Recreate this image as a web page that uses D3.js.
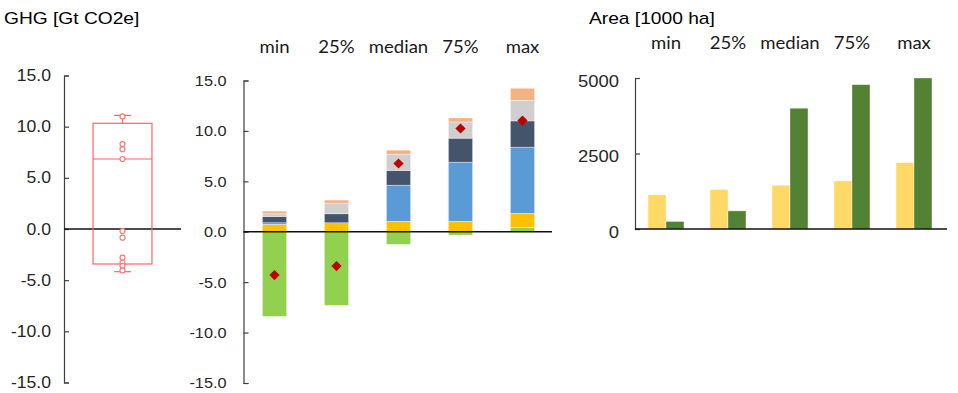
<!DOCTYPE html>
<html>
<head>
<meta charset="utf-8">
<script src="https://cdn.jsdelivr.net/npm/d3@7"></script>
<style>
  body { margin: 0; background: #fff; }
  svg { display: block; }
</style>
</head>
<body>
<div id="chart"></div>
<script>
// ---- data ----
var categories = ["min", "25%", "median", "75%", "max"];

// stacked GHG contributions per scenario [Gt CO2e]
var ghgKeys   = ["green", "gold", "blue", "slate", "grey", "peach"];
var ghgColors = ["#92D050", "#FFC000", "#5B9BD5", "#44546A", "#D0CECE", "#F4B183"];
var greenVals = [-8.4, -7.3, -1.25, -0.33, 0.43];
var goldVals  = [0.73, 0.89, 1.03, 1.03, 1.39];
var blueVals  = [0.16, 0.0, 3.59, 5.87, 6.57];
var slateVals = [0.63, 0.89, 1.46, 2.38, 2.6];
var greyVals  = [0.26, 1.06, 1.61, 1.61, 2.05];
var peachVals = [0.27, 0.30, 0.40, 0.40, 1.19];
var netVals   = [-4.3, -3.4, 6.77, 10.24, 11.03];

// box plot on the left
var boxQuartiles = [-3.42, 6.84, 10.33];
var boxWhiskers  = [-4.17, 11.1];
var boxPoints    = [11.0, 8.3, 7.8, 6.84, -0.2, -0.85, -2.8, -3.3, -3.6, -4.05];

// area panel [1000 ha]
var areaKeys   = ["a", "b"];
var areaColors = ["#FFD966", "#548235"];
var areaYellow = [1130, 1310, 1450, 1590, 2200];
var areaGreen  = [250, 600, 4000, 4780, 5000];

var ghgTicks  = [-15, -10, -5, 0, 5, 10, 15];
var areaTicks = [0, 2500, 5000];

var width = 958, height = 393;

var svg = d3.select("#chart").append("svg")
  .attr("width", width)
  .attr("height", height);

var tickFont = "'Liberation Sans', Arial, sans-serif";
var catFont  = "Lato, 'Open Sans', sans-serif";

function styleAxis(g, fontSize, sx, pad) {
  g.select(".domain").attr("stroke", "#404040").attr("stroke-width", 1.2);
  g.selectAll(".tick line").attr("stroke", "#404040").attr("stroke-width", 1.2);
  g.selectAll(".tick text")
    .attr("font-family", tickFont)
    .attr("font-size", fontSize)
    .attr("fill", "#262626")
    .attr("x", -pad / sx)
    .attr("transform", "scale(" + sx + ",1)");
}

// titles
svg.append("text")
  .attr("transform", "translate(4,24) scale(1.2,1)")
  .attr("font-family", tickFont).attr("font-size", 16).attr("fill", "#000")
  .text("GHG [Gt CO2e]");

svg.append("text")
  .attr("transform", "translate(589,24) scale(1.2,1)")
  .attr("font-family", tickFont).attr("font-size", 16).attr("fill", "#000")
  .text("Area [1000 ha]");

// ---- left: box plot ----
var yBox = d3.scaleLinear().domain([-15, 15]).range([382.5, 75.5]);
var xBox = d3.scaleBand().domain(["all"]).range([64, 181]).padding(0.33);

var boxAxis = svg.append("g")
  .attr("transform", "translate(64,0)")
  .call(d3.axisLeft(yBox).tickValues(ghgTicks).tickFormat(function(d){ return d.toFixed(1); })
    .tickSizeInner(-5).tickSizeOuter(-5).tickPadding(13));
styleAxis(boxAxis, 16, 1.1, 13);

svg.append("line")
  .attr("x1", 64).attr("x2", 181)
  .attr("y1", yBox(0)).attr("y2", yBox(0))
  .attr("stroke", "#111").attr("stroke-width", 1.3);

var boxG = svg.append("g")
  .attr("stroke", "#ff6464").attr("stroke-width", 1.2).attr("fill", "none");
var bx0 = xBox("all"), bw = xBox.bandwidth(), bxc = bx0 + bw / 2;

boxG.append("rect")
  .attr("x", bx0).attr("width", bw)
  .attr("y", yBox(boxQuartiles[2]))
  .attr("height", yBox(boxQuartiles[0]) - yBox(boxQuartiles[2]));
boxG.append("line")
  .attr("x1", bx0).attr("x2", bx0 + bw)
  .attr("y1", yBox(boxQuartiles[1])).attr("y2", yBox(boxQuartiles[1]));
// whiskers
boxG.selectAll(".whisk")
  .data([[boxQuartiles[2], boxWhiskers[1]], [boxQuartiles[0], boxWhiskers[0]]])
  .enter().append("line")
  .attr("x1", bxc).attr("x2", bxc)
  .attr("y1", function(d){ return yBox(d[0]); })
  .attr("y2", function(d){ return yBox(d[1]); });
boxG.selectAll(".cap")
  .data(boxWhiskers)
  .enter().append("line")
  .attr("x1", bxc - 8.5).attr("x2", bxc + 8.5)
  .attr("y1", function(d){ return yBox(d); })
  .attr("y2", function(d){ return yBox(d); });
boxG.selectAll("circle")
  .data(boxPoints)
  .enter().append("circle")
  .attr("cx", bxc)
  .attr("cy", function(d){ return yBox(d); })
  .attr("r", 2.5)
  .attr("fill", "#fff")
  .attr("stroke", "#ff7878");

// ---- middle: stacked GHG bars ----
var yG = d3.scaleLinear().domain([-15, 15]).range([383, 80.5]);
var xG = d3.scaleBand().domain(categories).range([243.5, 553.5])
  .paddingInner(0.61).paddingOuter(0.305);

var ghgRows = categories.map(function(c, i) {
  return { cat: c, green: greenVals[i], gold: goldVals[i], blue: blueVals[i],
           slate: slateVals[i], grey: greyVals[i], peach: peachVals[i] };
});
var stackG = d3.stack().keys(ghgKeys).offset(d3.stackOffsetDiverging)(ghgRows);
var colorG = d3.scaleOrdinal().domain(ghgKeys).range(ghgColors);

var gAxis = svg.append("g")
  .attr("transform", "translate(243.5,0)")
  .call(d3.axisLeft(yG).tickValues(ghgTicks).tickFormat(function(d){ return d.toFixed(1); })
    .tickSizeInner(-5).tickSizeOuter(-5).tickPadding(17));
styleAxis(gAxis, 15.5, 1.05, 17);

svg.append("g").selectAll("g")
  .data(stackG)
  .enter().append("g")
  .attr("fill", function(d){ return colorG(d.key); })
  .selectAll("rect")
  .data(function(d){ return d; })
  .enter().append("rect")
  .attr("x", function(d){ return xG(d.data.cat); })
  .attr("width", xG.bandwidth())
  .attr("y", function(d){ return yG(Math.max(d[0], d[1])); })
  .attr("height", function(d){ return Math.abs(yG(d[0]) - yG(d[1])); })
  .attr("stroke", "#fff").attr("stroke-width", 0.6).attr("stroke-opacity", 0.6);

svg.append("line")
  .attr("x1", 243.5).attr("x2", 552)
  .attr("y1", yG(0)).attr("y2", yG(0))
  .attr("stroke", "#111").attr("stroke-width", 1.3);

svg.append("g").selectAll("path")
  .data(netVals)
  .enter().append("path")
  .attr("d", d3.symbol().type(d3.symbolSquare).size(52))
  .attr("transform", function(d, i){
    return "translate(" + (xG(categories[i]) + xG.bandwidth() / 2) + "," + yG(d) + ") rotate(45)";
  })
  .attr("fill", "#C00000");

svg.append("g").selectAll("text")
  .data(categories)
  .enter().append("text")
  .attr("transform", function(d){ return "translate(" + (xG(d) + xG.bandwidth() / 2) + ",53) scale(1.06,1)"; })
  .attr("text-anchor", "middle")
  .attr("font-family", catFont).attr("font-size", 17.5).attr("fill", "#1a1a1a")
  .text(function(d){ return d; });

// ---- right: area bars ----
var yA = d3.scaleLinear().domain([0, 5000]).range([229, 78]);
var xA = d3.scaleBand().domain(categories).range([635, 945])
  .paddingInner(0.42).paddingOuter(0.21);
var xSub = d3.scaleBand().domain(areaKeys).range([0, xA.bandwidth()]);
var colorA = d3.scaleOrdinal().domain(areaKeys).range(areaColors);

var areaRows = categories.map(function(c, i) {
  return { cat: c, a: areaYellow[i], b: areaGreen[i] };
});

var aAxis = svg.append("g")
  .attr("transform", "translate(635,0)")
  .call(d3.axisLeft(yA).tickValues(areaTicks).tickFormat(d3.format("d"))
    .tickSizeInner(-5).tickSizeOuter(-5).tickPadding(16));
styleAxis(aAxis, 16, 1.15, 16);
aAxis.selectAll(".tick text").attr("dy", "0.5em");

svg.append("g").selectAll("g")
  .data(areaRows)
  .enter().append("g")
  .attr("transform", function(d){ return "translate(" + xA(d.cat) + ",0)"; })
  .selectAll("rect")
  .data(function(d){ return areaKeys.map(function(k){ return { key: k, value: d[k] }; }); })
  .enter().append("rect")
  .attr("x", function(d){ return xSub(d.key); })
  .attr("width", xSub.bandwidth())
  .attr("y", function(d){ return yA(d.value); })
  .attr("height", function(d){ return yA(0) - yA(d.value); })
  .attr("fill", function(d){ return colorA(d.key); })
  .attr("stroke", "#fff").attr("stroke-width", 0.6).attr("stroke-opacity", 0.6);

svg.append("line")
  .attr("x1", 635).attr("x2", 947)
  .attr("y1", yA(0)).attr("y2", yA(0))
  .attr("stroke", "#111").attr("stroke-width", 1.3);

svg.append("g").selectAll("text")
  .data(categories)
  .enter().append("text")
  .attr("transform", function(d){ return "translate(" + (xA(d) + xA.bandwidth() / 2) + ",49) scale(1.06,1)"; })
  .attr("text-anchor", "middle")
  .attr("font-family", catFont).attr("font-size", 17.5).attr("fill", "#1a1a1a")
  .text(function(d){ return d; });
</script>
</body>
</html>
